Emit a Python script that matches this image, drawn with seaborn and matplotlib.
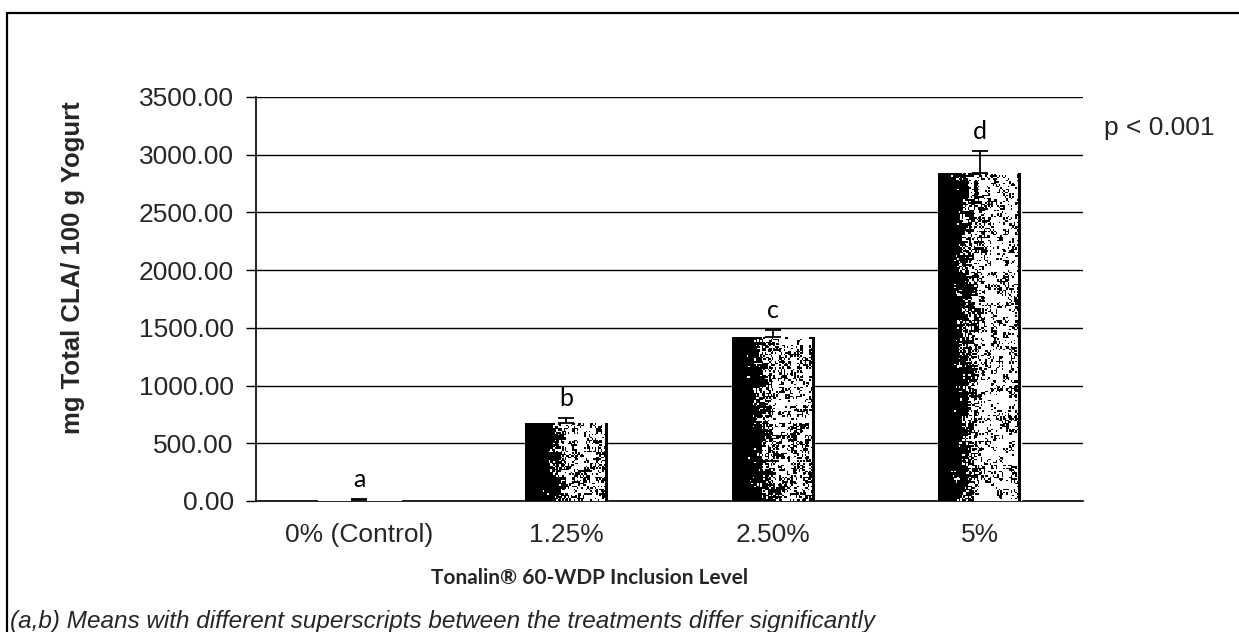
import numpy as np
import pandas as pd
import matplotlib
matplotlib.use("Agg")
import matplotlib.pyplot as plt
from matplotlib.lines import Line2D
import seaborn as sns

# Inclusion levels and measured CLA content (mg / 100 g yogurt)
levels = ["0% (Control)", "1.25%", "2.50%", "5%"]
cla_mean = [5.0, 675.0, 1420.0, 2845.0]
cla_err = [8.0, 45.0, 60.0, 190.0]
group_letters = ["a", "b", "c", "d"]
y_ticks = [0, 500, 1000, 1500, 2000, 2500, 3000, 3500]

df = pd.DataFrame({"level": levels, "cla": cla_mean})

sns.set_theme(style="white")
plt.rcParams["font.family"] = ["Liberation Sans", "DejaVu Sans"]

W, H = 1239, 632
fig = plt.figure(figsize=(W / 100, H / 100), dpi=100)
fig.patch.set_facecolor("white")


def fx(px):
    return px / W


def fy(py):
    return 1 - py / H


ax = fig.add_axes([fx(256), fy(501), fx(1083) - fx(256), fy(97) - fy(501)])

sns.barplot(data=df, x="level", y="cla", ax=ax, color="black",
            width=0.40, errorbar=None, saturation=1, zorder=3)


def mottle(shape, rng):
    # blotchy grain: fine noise blended with a coarser, upsampled layer
    ny, nx = shape
    fine = rng.random((ny, nx))
    coarse = rng.random((ny // 4 + 2, nx // 4 + 2))
    coarse = np.kron(coarse, np.ones((4, 4)))[:ny, :nx]
    return 0.55 * fine + 0.45 * coarse


# speckled fill inside each bar: solid on the left, mottled towards the right
rng = np.random.default_rng(11)
for i, patch in enumerate(ax.patches):
    x0, y0 = patch.get_x(), patch.get_y()
    w, h = patch.get_width(), patch.get_height()
    if h < 50:
        continue
    ny = max(int(h / 3500 * 404 / 1.5), 12)
    nx = 56
    ramp = np.clip((np.linspace(0, 1, nx) - 0.14) / 0.4, 0, 1)
    vert = np.linspace(0.8, 1.0, ny)[:, None] if i < 3 else 1.0
    n = mottle((ny, nx), rng)
    shade = np.where(n < 0.66 * ramp[None, :] * vert, 1.0, 0.0)
    shade[:, -2:] = 0
    im = ax.imshow(shade, cmap="gray", vmin=0, vmax=1, aspect="auto",
                   extent=[x0, x0 + w, y0, y0 + h], origin="lower",
                   interpolation="nearest", zorder=4)
    im.set_clip_path(patch)

xs = np.arange(len(levels))
ax.errorbar(xs, cla_mean, yerr=[np.zeros(len(cla_err)), cla_err], fmt="none",
            ecolor="black", elinewidth=1.3, capsize=6, capthick=1.3, zorder=5)

for x, m, e, lab in zip(xs, cla_mean, cla_err, group_letters):
    ax.text(x, m + e + 70, lab, ha="center", va="bottom", fontsize=18,
            family=["Lato", "DejaVu Sans"], color="black", zorder=6)

ax.set_ylim(0, 3500)
ax.set_xlim(-0.5, len(levels) - 0.5)
ax.set_yticks(y_ticks)
ax.set_yticklabels([f"{v:.2f}" for v in y_ticks], fontsize=19)
ax.tick_params(axis="y", direction="out", length=7, width=1, color="black",
               pad=9, left=True)
ax.tick_params(axis="x", length=0, pad=16, labelsize=19)
ax.yaxis.grid(True, color="black", linewidth=1.0, zorder=0)
ax.set_axisbelow(True)
for side in ["top", "right"]:
    ax.spines[side].set_visible(False)
for side in ["left", "bottom"]:
    ax.spines[side].set_color("black")
    ax.spines[side].set_linewidth(1.2)
ax.set_xlabel("")
ax.set_ylabel("")

fig.text(fx(73), fy(268), "mg Total CLA/ 100 g Yogurt", rotation=90,
         ha="center", va="center", fontsize=18.5, fontweight="bold")
fig.text(fx(590), fy(578), "Tonalin® 60-WDP Inclusion Level", ha="center",
         va="center", fontsize=15, fontweight="bold",
         family=["Lato", "DejaVu Sans"])
fig.text(fx(1104), fy(128), "p < 0.001", ha="left", va="center",
         fontsize=19)
fig.text(fx(10), fy(628), "(a,b) Means with different superscripts between the "
         "treatments differ significantly", ha="left", va="baseline",
         fontsize=17.5, style="italic")

# outer frame around the figure panel
fig.add_artist(Line2D([fx(7), 1.0], [fy(13), fy(13)], color="black",
                      linewidth=1.6))
fig.add_artist(Line2D([fx(7), fx(7)], [fy(13), 0.0], color="black",
                      linewidth=1.6))

fig.savefig("out.png", dpi=100)
